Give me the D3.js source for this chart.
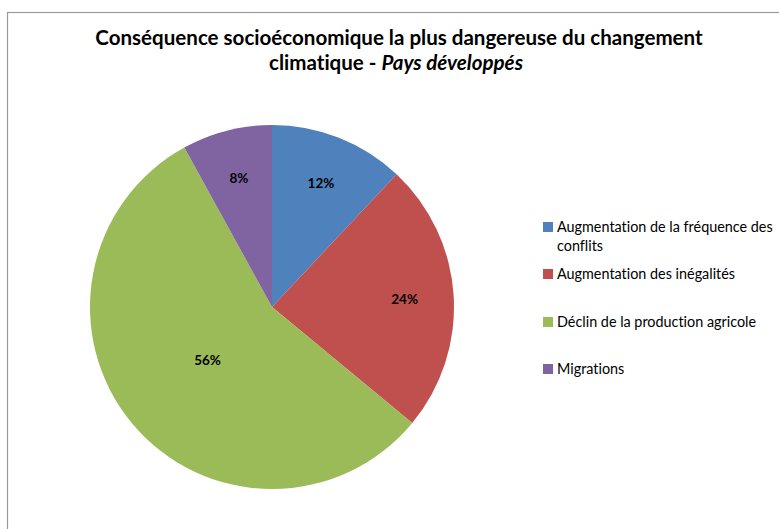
<!DOCTYPE html>
<html><head><meta charset="utf-8">
<script src="https://cdn.jsdelivr.net/npm/d3@7"></script>
<style>body{margin:0;background:#fff}svg{display:block}text{font-variant-ligatures:none;font-feature-settings:"liga" 0}</style>
</head><body>
<svg id="c" width="779" height="529"></svg>
<script>
const categories = ["Augmentation de la fréquence des conflits", "Augmentation des inégalités", "Déclin de la production agricole", "Migrations"];
const legendLines = [["Augmentation de la fréquence des", "conflits"], ["Augmentation des inégalités"], ["Déclin de la production agricole"], ["Migrations"]];
const values = [12, 24, 56, 8];
const colors = ["#4F81BD", "#C0504D", "#9BBB59", "#8064A2"];
const titleLine1 = "Conséquence socioéconomique la plus dangereuse du changement";
const titleLine2a = "climatique - ";
const titleLine2b = "Pays développés";

const svg = d3.select("#c");
const FONT = "Lato, 'Open Sans', sans-serif";

svg.append("rect").attr("x", 7.5).attr("y", 12.5).attr("width", 900).attr("height", 700)
  .attr("fill", "#fff").attr("stroke", "#9a9a9a").attr("stroke-width", 1.2);

// Title
const t1 = svg.append("text").attr("x", 399).attr("y", 45).attr("text-anchor", "middle")
  .attr("font-family", FONT).attr("font-weight", "bold").attr("font-size", 19).attr("fill", "#000")
  .text(titleLine1);
const w1 = t1.node().getComputedTextLength();
const tfs = 19 * 608 / w1;
t1.attr("font-size", tfs);
const t2 = svg.append("text").attr("x", 396).attr("y", 70).attr("text-anchor", "middle")
  .attr("font-family", FONT).attr("font-weight", "bold").attr("font-size", tfs).attr("fill", "#000");
t2.append("tspan").text(titleLine2a);
t2.append("tspan").attr("font-style", "italic").text(titleLine2b);

// Pie
const cx = 272, cy = 307, r = 182;
const pie = d3.pie().sort(null).value(d => d)(values);
const arc = d3.arc().innerRadius(0).outerRadius(r);
const g = svg.append("g").attr("transform", `translate(${cx},${cy})`);
g.selectAll("path").data(pie).join("path")
  .attr("d", arc).attr("fill", (d, i) => colors[i]);

g.selectAll("text.lbl").data(pie).join("text").attr("class", "lbl")
  .attr("transform", d => {
    const k = d.data > 50 ? 0.46 : 0.73;
    const a = (d.startAngle + d.endAngle) / 2;
    return `translate(${Math.sin(a) * r * k},${-Math.cos(a) * r * k})`;
  })
  .attr("text-anchor", "middle").attr("dy", "0.36em")
  .attr("font-family", FONT).attr("font-weight", "bold").attr("font-size", 13.5).attr("fill", "#000")
  .text(d => d.data + "%");

// Legend
const legY = [227, 274, 322, 369];
const lg = svg.append("g");
let lfs = 13;
legendLines.forEach((lines, i) => {
  lg.append("rect").attr("x", 543).attr("y", legY[i] - 5).attr("width", 10).attr("height", 10)
    .attr("fill", colors[i]);
  lines.forEach((ln, j) => {
    lg.append("text").attr("class", "lt").attr("x", 557).attr("y", legY[i] + j * 19).attr("dy", "0.35em")
      .attr("font-family", FONT).attr("font-size", lfs).attr("fill", "#000").text(ln);
  });
});
const wl = lg.select("text.lt").node().getComputedTextLength();
lg.selectAll("text.lt").attr("font-size", lfs * 216 / wl);
</script>
</body></html>
